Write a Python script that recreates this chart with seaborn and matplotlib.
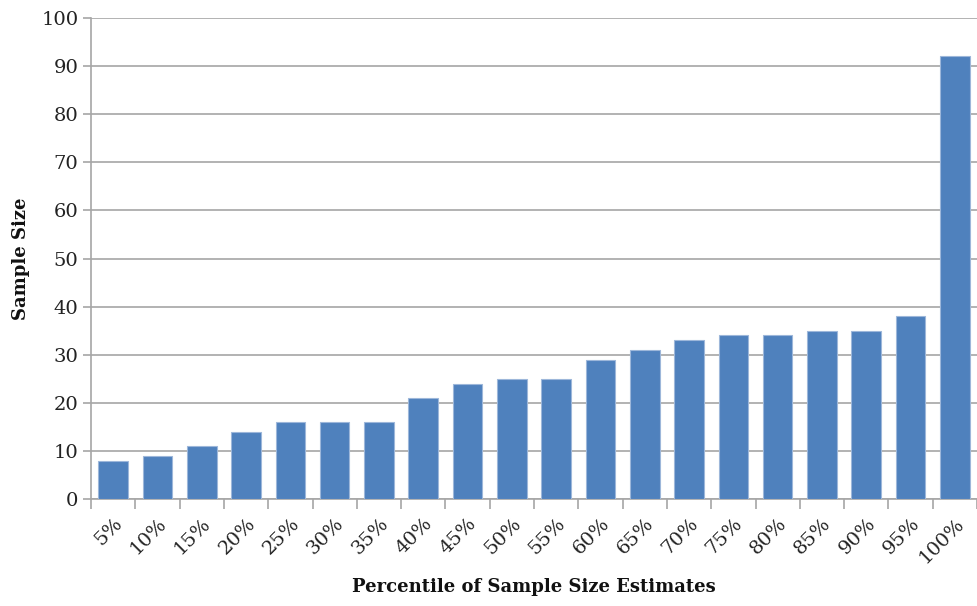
import matplotlib
matplotlib.use("Agg")
import matplotlib.pyplot as plt
import seaborn as sns
import pandas as pd

percentiles = ["5%", "10%", "15%", "20%", "25%", "30%", "35%", "40%", "45%", "50%",
               "55%", "60%", "65%", "70%", "75%", "80%", "85%", "90%", "95%", "100%"]
sample_size = [8, 9, 11, 14, 16, 16, 16, 21, 24, 25,
               25, 29, 31, 33, 34, 34, 35, 35, 38, 92]

df = pd.DataFrame({"pct": percentiles, "n": sample_size})

sns.set_theme(style="white")
plt.rcParams['font.family'] = ['DejaVu Serif']

fig = plt.figure(figsize=(9.77, 6.06), dpi=100)
ax = fig.add_axes([91/977, 1-499/606, 1-91/977, (499-18)/606])

sns.barplot(data=df, x="pct", y="n", color="#4F81BD", saturation=1, width=0.67,
            edgecolor="#9DB7DA", linewidth=0.8, ax=ax, zorder=3)

ax.set_ylim(0, 100)
ax.set_xlim(-0.5, len(percentiles) - 0.5)
ax.set_yticks(range(0, 101, 10))
ax.yaxis.grid(True, color="#A6A6A6", linewidth=1.2, zorder=0)
ax.set_axisbelow(True)

for s in ["top", "right"]:
    ax.spines[s].set_visible(False)
for s in ["left", "bottom"]:
    ax.spines[s].set_color("#A6A6A6")
    ax.spines[s].set_linewidth(1.2)

# category-boundary ticks on x
ax.set_xticks([i + 0.5 for i in range(-1, len(percentiles))], minor=True)
ax.tick_params(axis="x", which="minor", length=7, color="#A6A6A6", width=1.2, direction="out", bottom=True)
ax.tick_params(axis="x", which="major", length=0, pad=11)
ax.tick_params(axis="y", which="major", length=6, color="#A6A6A6", width=1.2, direction="out", left=True, pad=3)

ax.set_xticks(range(len(percentiles)))
ax.set_xticklabels(percentiles, rotation=45, ha="right", rotation_mode="anchor", fontsize=14, color="#222222")
for lab in ax.get_yticklabels():
    lab.set_fontsize(14)
    lab.set_color("#222222")

ax.set_xlabel("Percentile of Sample Size Estimates", fontsize=13, fontweight="bold", color="#111111")
ax.xaxis.set_label_coords(0.5, -0.165)
ax.set_ylabel("Sample Size", fontsize=13, fontweight="bold", labelpad=8, color="#111111")

fig.savefig("out.png", dpi=100)
